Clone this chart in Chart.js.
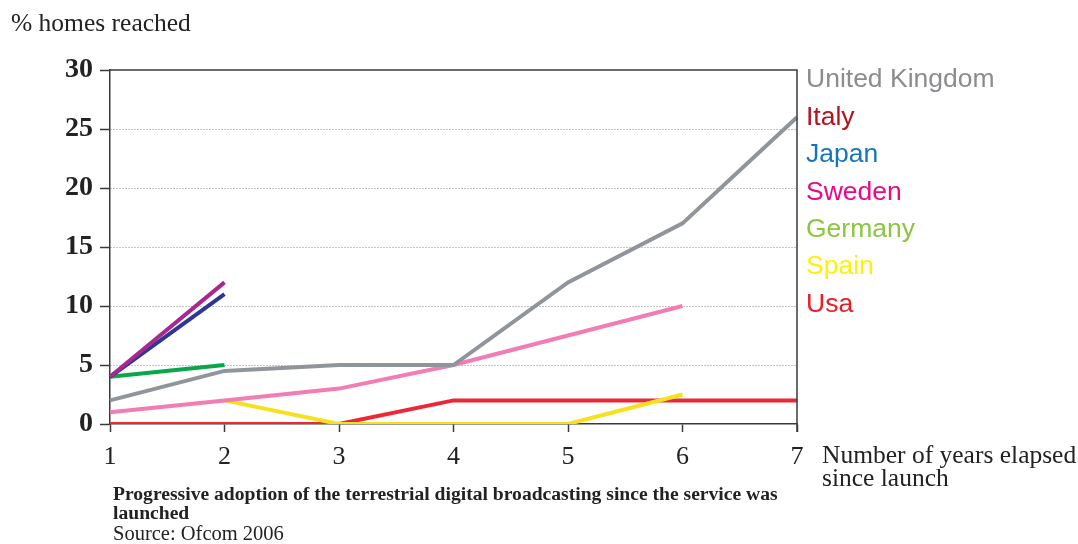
<!DOCTYPE html>
<html>
<head>
<meta charset="utf-8">
<script src="https://cdn.jsdelivr.net/npm/chart.js@4/dist/chart.umd.min.js"></script>
<style>
  html, body { margin: 0; padding: 0; background: #ffffff; }
  #wrap { width: 1078px; height: 544px; }
</style>
</head>
<body>
<div id="wrap"><canvas id="chart" width="1078" height="544"></canvas></div>
<script>
// Years since launch
const years = ['1', '2', '3', '4', '5', '6', '7'];

// % of homes reached per country (null where no data)
const unitedKingdom = [2, 4.5, 5, 5, 12, 17, 26];
const italy         = [4, 12, null, null, null, null, null];
const japan         = [4, 11, null, null, null, null, null];
const sweden        = [1, 2, 3, 5, 7.5, 10, null];
const germany       = [4, 5, null, null, null, null, null];
const spain         = [null, 2, 0, 0, 0, 2.5, null];
const usa           = [0, 0, 0, 2, 2, 2, 2];

const yTicks = [0, 5, 10, 15, 20, 25, 30];

const countryNames  = ['United Kingdom', 'Italy', 'Japan', 'Sweden', 'Germany', 'Spain', 'Usa'];
const legendColors  = ['#8a8c8f', '#b3121d', '#1475bd', '#e8088a', '#8cc63f', '#fff200', '#ec1c2a'];
const lineColors    = ['#8f959a', '#a8288f', '#2e3794', '#f27cb4', '#0aa64b', '#f6e11f', '#ec2838'];
const seriesValues  = [unitedKingdom, italy, japan, sweden, germany, spain, usa];

const SERIF = '"Liberation Serif", "DejaVu Serif", serif';
const SANS = '"Liberation Sans", Arial, sans-serif';
const AXIS = '#3a3a3a';

// Frame (top and right edges), legend text and captions
const decorations = {
  id: 'decorations',
  afterDraw(chart) {
    const { ctx, chartArea: a } = chart;
    ctx.save();
    ctx.strokeStyle = AXIS;
    ctx.lineWidth = 1.5;
    ctx.beginPath();
    ctx.moveTo(a.left, a.top);
    ctx.lineTo(a.right, a.top);
    ctx.lineTo(a.right, a.bottom + 8);
    ctx.stroke();

    // legend
    ctx.font = '26.5px ' + SANS;
    ctx.textAlign = 'left';
    ctx.textBaseline = 'middle';
    countryNames.forEach((name, i) => {
      ctx.fillStyle = legendColors[i];
      ctx.fillText(name, a.right + 9, 80 + i * 37.4);
    });

    // y axis title
    ctx.fillStyle = '#222';
    ctx.font = '25.5px ' + SERIF;
    ctx.fillText('% homes reached', 11, 24);

    // x axis title
    ctx.font = '25.5px ' + SERIF;
    ctx.fillText('Number of years elapsed', 822, 456);
    ctx.fillText('since launch', 822, 479);

    // caption
    ctx.font = 'bold 19.6px ' + SERIF;
    ctx.fillText('Progressive adoption of the terrestrial digital broadcasting since the service was', 113, 495);
    ctx.fillText('launched', 113, 514);
    ctx.font = '20.5px ' + SERIF;
    ctx.fillText('Source: Ofcom 2006', 113, 535);
    ctx.restore();
  }
};

new Chart(document.getElementById('chart'), {
  type: 'line',
  data: {
    labels: years,
    datasets: countryNames.map((name, i) => ({
      label: name,
      data: seriesValues[i],
      borderColor: lineColors[i],
      backgroundColor: lineColors[i],
      borderWidth: 4,
      pointRadius: 0,
      tension: 0,
      spanGaps: false,
      fill: false
    }))
  },
  options: {
    responsive: false,
    animation: false,
    layout: { padding: { left: 0, top: 70, right: 281, bottom: 0 } },
    plugins: { legend: { display: false }, tooltip: { enabled: false } },
    scales: {
      x: {
        offset: false,
        afterFit(scale) { scale.height = 120; },
        grid: {
          drawOnChartArea: false,
          drawTicks: true,
          tickLength: 8,
          tickColor: AXIS,
          tickWidth: 1.5
        },
        border: { display: true, color: AXIS, width: 1.5 },
        ticks: {
          color: '#222',
          padding: 10,
          maxRotation: 0,
          font: { family: SERIF, size: 26 }
        }
      },
      y: {
        min: 0,
        max: 30,
        afterFit(scale) { scale.width = 110; },
        afterBuildTicks(scale) { scale.ticks = yTicks.map(v => ({ value: v })); },
        grid: {
          color: ctx => (ctx.tick && (ctx.tick.value === 0 || ctx.tick.value === 30)) ? 'rgba(0,0,0,0)' : '#8a8a8a',
          lineWidth: 1,
          drawTicks: true,
          tickLength: 10,
          tickColor: AXIS,
          tickWidth: 1.5
        },
        border: { display: true, color: AXIS, width: 1.5, dash: [1, 2] },
        ticks: {
          color: '#222',
          padding: 7,
          font: { family: SERIF, size: 28, weight: 'bold' }
        }
      }
    }
  },
  plugins: [decorations]
});
</script>
</body>
</html>
